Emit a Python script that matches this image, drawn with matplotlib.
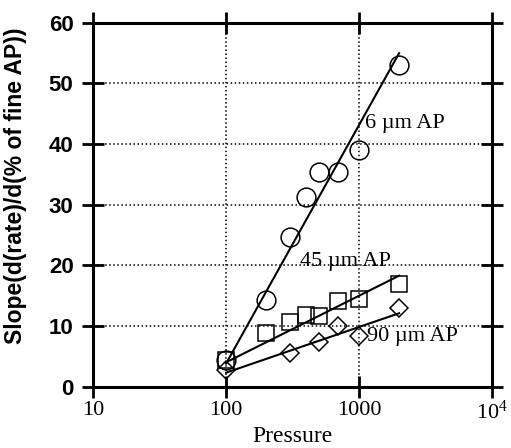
import numpy as np
import matplotlib
matplotlib.use("Agg")
import matplotlib.pyplot as plt

# data
pressure = [100, 200, 300, 400, 500, 700, 1000, 2000]
slope_6um = [4.4, 14.3, 24.6, 31.2, 35.4, 35.4, 39.1, 53.0]
slope_45um = [4.4, 8.8, 10.7, 11.8, 11.6, 14.2, 14.5, 17.0]
pressure_90 = [100, 300, 500, 700, 1000, 2000]
slope_90um = [2.8, 5.6, 7.4, 10.0, 8.3, 12.9]

# fitted lines (end points)
fit_x = [100, 2000]
fit_6um = [3.8, 55.0]
fit_45um = [4.0, 18.3]
fit_90um = [2.3, 12.1]

xticks = [10, 100, 1000, 10000]
xticklabels = ["10", "100", "1000", r"$\mathregular{10^4}$"]
yticks = [0, 10, 20, 30, 40, 50, 60]

serif = "Liberation Serif"
sans = "Liberation Sans"
plt.rcParams["mathtext.fontset"] = "stix"

fig = plt.figure(figsize=(5.11, 4.48), dpi=100)
ax = fig.add_axes([0.182, 0.137, 0.781, 0.812])

ax.set_xscale("log")
ax.set_xlim(10, 10000)
ax.set_ylim(0, 60)

mk = dict(mfc="none", mec="black", mew=1.1, ls="none")
ax.plot(pressure, slope_6um, marker="o", ms=13.5, **mk)
ax.plot(pressure, slope_45um, marker="s", ms=11, **mk)
ax.plot(pressure_90, slope_90um, marker="D", ms=9, **mk)

ax.plot(fit_x, fit_6um, color="black", lw=1.5)
ax.plot(fit_x, fit_45um, color="black", lw=1.5)
ax.plot(fit_x, fit_90um, color="black", lw=1.5)

ax.text(1110, 43.4, "6 \u00b5m AP", family=serif, fontsize=16, va="center")
ax.text(360, 20.6, "45 \u00b5m AP", family=serif, fontsize=16, va="center")
ax.text(1150, 8.2, "90 \u00b5m AP", family=serif, fontsize=16, va="center")

ax.grid(True, which="major", ls=":", color="black", lw=1.1)
ax.set_xticks(xticks)
ax.set_xticklabels(xticklabels, family=serif, fontsize=16)
ax.minorticks_off()
ax.set_yticks(yticks)
ax.set_yticklabels([str(v) for v in yticks], family=sans, fontsize=16, fontweight="bold")
ax.tick_params(direction="inout", length=16, width=2, top=True, right=True,
               labeltop=False, labelright=False)
ax.tick_params(axis="x", pad=2)
ax.tick_params(axis="y", pad=6)

for s in ax.spines.values():
    s.set_linewidth(2.2)

ax.set_xlabel("Pressure", family=serif, fontsize=17, labelpad=2)
ax.set_ylabel("Slope(d(rate)/d(% of fine AP))", family=sans, fontsize=16.5,
              fontweight="bold")
ax.yaxis.set_label_coords(-0.166, 0.553)

fig.savefig("out.png", dpi=100)
